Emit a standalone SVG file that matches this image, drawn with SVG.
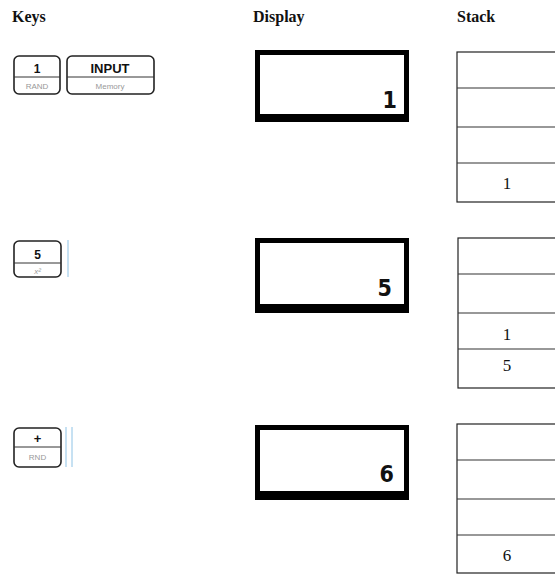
<svg xmlns="http://www.w3.org/2000/svg" width="555" height="574" viewBox="0 0 555 574">
<style>
.h{font-family:"Liberation Serif",serif;font-weight:bold;font-size:16px;fill:#111}
.key{fill:#fff;stroke:#222;stroke-width:1.6}
.div{stroke:#333;stroke-width:1}
.kt{font-family:"Liberation Sans",Arial,sans-serif;font-weight:bold;fill:#111;text-anchor:middle}
.ks{font-family:"Liberation Sans",Arial,sans-serif;fill:#999;text-anchor:middle;font-size:8px}
.disp{fill:#fff;stroke:#000;stroke-width:5}
.dt{font-family:"DejaVu Sans Condensed","DejaVu Sans",sans-serif;font-weight:bold;font-size:23px;fill:#111;text-anchor:end}
.st{fill:#fff;stroke:#222;stroke-width:1.2}
.sl{stroke:#333;stroke-width:1.2}
.sv{font-family:"Liberation Serif",serif;font-size:17px;fill:#111;text-anchor:middle}
.blue{stroke:#8ec3e6;stroke-width:1}
</style>
<rect width="555" height="574" fill="#fff"/>
<text class="h" x="12" y="22">Keys</text>
<text class="h" x="253" y="22">Display</text>
<text class="h" x="457" y="22">Stack</text>

<g id="key-1">
<rect class="key" x="14" y="56" width="46" height="38" rx="5"/>
<line class="div" x1="14" y1="77" x2="60" y2="77"/>
<text class="kt" x="37" y="73" font-size="12">1</text>
<text class="ks" x="37" y="89">RAND</text>
</g>
<g id="key-input">
<rect class="key" x="67" y="56" width="87" height="38" rx="5"/>
<line class="div" x1="67" y1="77" x2="154" y2="77"/>
<text class="kt" x="110" y="73" font-size="13">INPUT</text>
<text class="ks" x="110" y="89" font-size="9">Memory</text>
</g>
<g id="display-1">
<rect class="disp" x="257.5" y="52.5" width="149" height="66"/>
<rect x="255" y="114" width="154" height="8" fill="#000"/>
<text class="dt" x="397" y="108">1</text>
</g>
<g id="stack-1">
<rect class="st" x="457" y="52" width="110" height="150"/>
<line class="sl" x1="457" y1="88" x2="555" y2="88"/>
<line class="sl" x1="457" y1="127" x2="555" y2="127"/>
<line class="sl" x1="457" y1="163" x2="555" y2="163"/>
<text class="sv" x="507" y="189">1</text>
</g>

<g id="key-5">
<rect class="key" x="14" y="241" width="47" height="36" rx="5"/>
<line class="div" x1="14" y1="263" x2="61" y2="263"/>
<text class="kt" x="37.5" y="259" font-size="12">5</text>
<text class="ks" x="37.5" y="274" font-style="italic">x²</text>
<line class="blue" x1="68" y1="240" x2="68" y2="277"/>
</g>
<g id="display-2">
<rect class="disp" x="257.5" y="240.5" width="149" height="66"/>
<rect x="255" y="305" width="154" height="8" fill="#000"/>
<text class="dt" x="392" y="296">5</text>
</g>
<g id="stack-2">
<rect class="st" x="458" y="238" width="110" height="150"/>
<line class="sl" x1="458" y1="274" x2="555" y2="274"/>
<line class="sl" x1="458" y1="313" x2="555" y2="313"/>
<line class="sl" x1="458" y1="349" x2="555" y2="349"/>
<text class="sv" x="507" y="340">1</text>
<text class="sv" x="507" y="371">5</text>
</g>

<g id="key-plus">
<rect class="key" x="14" y="428" width="47" height="39" rx="5"/>
<line class="div" x1="14" y1="447" x2="61" y2="447"/>
<text class="kt" x="37.5" y="443" font-size="13">+</text>
<text class="ks" x="37.5" y="460">RND</text>
<line class="blue" x1="66" y1="427" x2="66" y2="467"/>
<line class="blue" x1="72" y1="427" x2="72" y2="467"/>
</g>
<g id="display-3">
<rect class="disp" x="257.5" y="427.5" width="149" height="66"/>
<rect x="255" y="492" width="154" height="8" fill="#000"/>
<text class="dt" x="394" y="482">6</text>
</g>
<g id="stack-3">
<rect class="st" x="457" y="424" width="110" height="149"/>
<line class="sl" x1="457" y1="460" x2="555" y2="460"/>
<line class="sl" x1="457" y1="499" x2="555" y2="499"/>
<line class="sl" x1="457" y1="535" x2="555" y2="535"/>
<text class="sv" x="507" y="561">6</text>
</g>
<g id="connectors"/>
</svg>
